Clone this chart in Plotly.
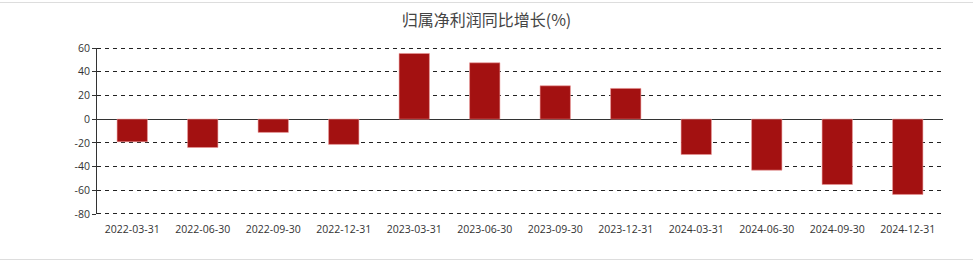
import plotly.graph_objects as go

categories = ["2022-03-31", "2022-06-30", "2022-09-30", "2022-12-31",
              "2023-03-31", "2023-06-30", "2023-09-30", "2023-12-31",
              "2024-03-31", "2024-06-30", "2024-09-30", "2024-12-31"]
growth = [-19.1, -23.9, -11.2, -21.3, 55.4, 47.5, 28.1, 25.9, -29.8, -43.0, -55.1, -63.5]
y_ticks = [-80, -60, -40, -20, 0, 20, 40, 60]
y_tick_labels = ["-80", "-60", "-40", "-20", "0", "20", "40", "60"]
title_text = "归属净利润同比增长(%)"

W, H = 973, 261
L, R, T, B = 97, 30, 48, 47
ph = H - T - B
pw = W - L - R

fig = go.Figure()
fig.add_trace(go.Bar(
    x=categories, y=growth,
    marker=dict(color="#a31111", line=dict(color="rgba(235,150,150,0.7)", width=0.8)),
    width=0.43,
))

def py(pix):
    return (H - B - pix) / ph

def px(pix):
    return (pix - L) / pw

shapes = [
    dict(type="line", xref="paper", yref="paper", x0=px(0), x1=px(W), y0=py(2.5), y1=py(2.5),
         line=dict(color="#ddd", width=1)),
    dict(type="line", xref="paper", yref="paper", x0=px(0), x1=px(W), y0=py(259.5), y1=py(259.5),
         line=dict(color="#ddd", width=1)),
    # dashed lines at the top and bottom of the value range
    dict(type="line", xref="paper", yref="paper", x0=0, x1=1, y0=py(T + 0.5), y1=py(T + 0.5),
         line=dict(color="#222", width=1, dash="4px,4px")),
    dict(type="line", xref="paper", yref="paper", x0=0, x1=1, y0=py(H - B - 0.5), y1=py(H - B - 0.5),
         line=dict(color="#222", width=1, dash="4px,4px")),
]

fig.update_layout(
    width=W, height=H,
    margin=dict(l=L, r=R, t=T, b=B),
    paper_bgcolor="white", plot_bgcolor="white",
    showlegend=False,
    font=dict(family="Noto Sans CJK SC, Noto Sans, sans-serif", color="#333"),
    title=dict(text=title_text, x=0.5, xanchor="center", y=1 - 20 / H, yanchor="middle",
               font=dict(size=16, color="#444")),
    xaxis=dict(type="category", showgrid=False, showline=False, ticks="outside", ticklen=5,
               tickcolor="rgba(0,0,0,0)",
               tickfont=dict(family="Open Sans, sans-serif", size=10.5, color="#333"),
               fixedrange=True),
    yaxis=dict(range=[-80, 60], tickmode="array", tickvals=y_ticks, ticktext=y_tick_labels,
               showgrid=True, gridcolor="#222",
               griddash="4px,4px", gridwidth=1, zeroline=True, zerolinecolor="#333",
               zerolinewidth=1, showline=True, linecolor="#333", linewidth=1,
               ticks="outside", ticklen=4, tickcolor="#333",
               tickfont=dict(family="Open Sans, sans-serif", size=10.5, color="#333"),
               fixedrange=True),
    shapes=shapes,
)

fig.write_html("out.html")
